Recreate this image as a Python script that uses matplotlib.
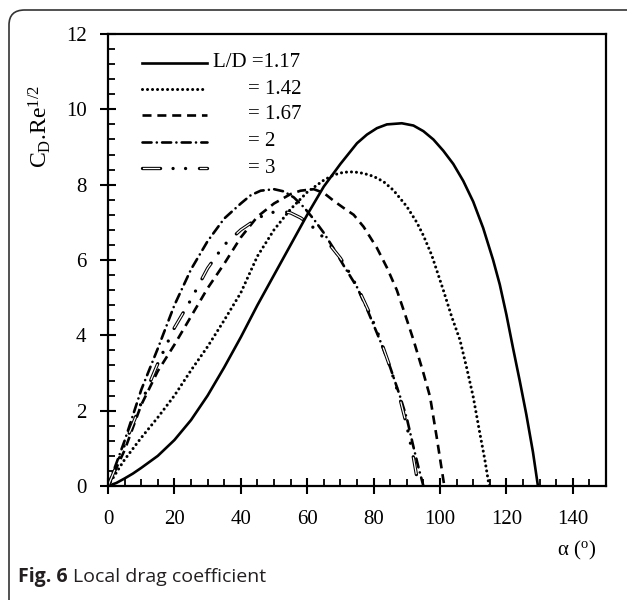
import numpy as np
import matplotlib
matplotlib.use("Agg")
from matplotlib import pyplot as plt
from matplotlib.patches import FancyBboxPatch
from matplotlib.ticker import MultipleLocator

# data (alpha in degrees, C_D.Re^1/2)
a_117 = [0, 2.5, 5, 7.5, 10, 15, 20, 25, 30, 35, 40, 45, 50, 55, 60, 65, 70, 75, 78, 81,
         84, 88.5, 92, 95, 98, 101, 104, 107, 110, 113, 116, 118, 120, 122, 124, 126,
         128, 129.5]
cd_117 = [0, 0.08, 0.2, 0.33, 0.48, 0.8, 1.22, 1.75, 2.4, 3.15, 3.95, 4.8, 5.6, 6.4, 7.2,
          7.95, 8.55, 9.1, 9.33, 9.5, 9.6, 9.63, 9.57, 9.42, 9.2, 8.9, 8.55, 8.1, 7.55,
          6.85, 6.0, 5.35, 4.55, 3.66, 2.8, 1.9, 0.9, 0]

a_142 = [0, 3.6, 5, 10, 15, 20, 25, 30, 35, 40, 45, 50, 55, 60, 65, 68, 71, 74, 77, 80,
         83, 86, 90, 93, 95, 97.5, 101, 103.5, 106, 108, 110, 112, 113.5, 114.8]
cd_142 = [0, 0.51, 0.7, 1.28, 1.82, 2.4, 3.07, 3.7, 4.4, 5.13, 6.1, 6.8, 7.35, 7.8, 8.12,
          8.26, 8.33, 8.34, 8.3, 8.22, 8.08, 7.85, 7.42, 7.0, 6.65, 6.13, 5.2, 4.5, 3.88,
          3.15, 2.37, 1.4, 0.7, 0]

a_167 = [0, 5, 10, 15, 20, 25, 30, 35, 40, 45, 50, 55, 58, 62, 65, 68, 71, 74, 77, 81,
         84, 87, 89.5, 92, 95, 97, 99, 101.3]
cd_167 = [0, 0.95, 2.15, 3.05, 3.75, 4.5, 5.25, 5.9, 6.6, 7.15, 7.5, 7.75, 7.84, 7.88,
          7.78, 7.57, 7.38, 7.2, 6.88, 6.32, 5.8, 5.2, 4.55, 3.88, 3.0, 2.37, 1.3, 0]

a_2 = [0, 5, 10, 15, 20, 25, 30, 35, 40, 43, 46, 50, 53, 56, 59, 62, 65, 68, 71, 75, 78,
       82, 85, 88, 90, 92, 93.5, 95]
cd_2 = [0, 1.2, 2.55, 3.65, 4.8, 5.75, 6.5, 7.1, 7.5, 7.72, 7.84, 7.88, 7.82, 7.66, 7.4,
        7.08, 6.72, 6.3, 5.85, 5.28, 4.7, 3.85, 3.15, 2.37, 1.8, 1.04, 0.5, 0]

a_3 = [0, 2, 5, 10, 15, 20, 25, 30, 35, 40, 45, 48, 52, 55, 58, 61, 64, 67, 70, 73, 76,
       79, 82, 85, 88, 90, 92, 93.5]
cd_3 = [0, 0.42, 1.1, 2.2, 3.25, 4.2, 4.95, 5.78, 6.4, 6.8, 7.1, 7.24, 7.3, 7.25, 7.12,
        6.93, 6.68, 6.38, 6.05, 5.62, 5.12, 4.55, 3.9, 3.15, 2.3, 1.6, 0.75, 0]

labels = ["L/D =1.17", "= 1.42", "= 1.67", "= 2", "= 3"]

plt.rcParams["font.family"] = ["Liberation Serif", "DejaVu Serif"]
plt.rcParams["mathtext.fontset"] = "custom"
plt.rcParams["mathtext.rm"] = "Liberation Serif"
plt.rcParams["mathtext.it"] = "Liberation Serif:italic"
plt.rcParams["lines.scale_dashes"] = False

fig = plt.figure(figsize=(6.27, 6.0), dpi=100)
ax = fig.add_axes([108/627, 114/600, 498/627, 452/600])

k = "black"
st_117 = dict(color=k, lw=1.9, ls="-")
st_142 = dict(color=k, lw=2.2, ls=(0, (0.01, 3.6)), dash_capstyle="round")
st_167 = dict(color=k, lw=1.9, ls=(0, (6.5, 4.2)))
st_2 = dict(color=k, lw=1.9, ls=(0, (6.5, 3.8, 0.01, 3.8)), dash_capstyle="round")
st_3o = dict(color=k, lw=2.4, ls=(0, (13, 9, 0.01, 9, 0.01, 10)), dash_capstyle="round")
st_3i = dict(color="white", lw=0.9, ls=(40.72, (12.4, 28.62)), dash_capstyle="butt")

ax.plot(a_117, cd_117, **st_117)
ax.plot(a_142, cd_142, **st_142)
ax.plot(a_167, cd_167, **st_167)
ax.plot(a_2, cd_2, **st_2)
ax.plot(a_3, cd_3, **st_3o)
ax.plot(a_3, cd_3, **st_3i)

# legend drawn by hand so the "=" signs line up
rows = [11.24, 10.53, 9.85, 9.14, 8.43]
styles = [[st_117], [st_142], [st_167], [st_2], [st_3o, st_3i]]
for i, (yy, sts) in enumerate(zip(rows, styles)):
    for s in sts:
        ax.plot([10.2, 29.8], [yy, yy], **s)
    if i == 0:
        ax.text(31.5, yy, labels[i], fontsize=15, va="center", ha="left")
    else:
        ax.text(42.3, yy, labels[i], fontsize=15, va="center", ha="left")

ax.set_xlim(0, 150)
ax.set_ylim(0, 12)
ax.set_xticks(np.arange(0, 141, 20))
ax.set_yticks(np.arange(0, 13, 2))
ax.xaxis.set_minor_locator(MultipleLocator(5))
ax.yaxis.set_minor_locator(MultipleLocator(0.4))
ax.tick_params(which="major", direction="inout", length=11, width=1.5, labelsize=15)
ax.tick_params(axis="x", which="major", pad=12)
ax.tick_params(axis="y", which="major", pad=10)
ax.tick_params(which="minor", direction="in", length=5, width=1.3)
for sp in ax.spines.values():
    sp.set_linewidth(1.6)

ax.text(-0.137, (486 - 85) / 452, r"C$_{\mathrm{D}}$.Re$^{1/2}$", fontsize=17,
        rotation=90, ha="center", va="top", transform=ax.transAxes)
ax.set_xlabel(r"α ($^{\mathrm{o}}$)", fontsize=15)
ax.xaxis.set_label_coords(0.94, -0.118)

fig.canvas.draw()
cap_y = 1 - 577/600
t1 = fig.text(18/627, cap_y, "Fig. 6", fontsize=14, fontweight="bold",
              family="Open Sans", color="#231f20", va="center")
bb = t1.get_window_extent(fig.canvas.get_renderer())
fig.text((bb.x1 + 5) / 627, cap_y, "Local drag coefficient", fontsize=14,
         family="Open Sans", color="#231f20", va="center")

frame = FancyBboxPatch((9/627, -0.1), 1.1, 1.1 - 10/600,
                       boxstyle="round,pad=0,rounding_size=0.025",
                       transform=fig.transFigure, fill=False, ec="#333333", lw=1.2)
fig.patches.append(frame)

plt.savefig("out.png", dpi=100)
plt.close()
